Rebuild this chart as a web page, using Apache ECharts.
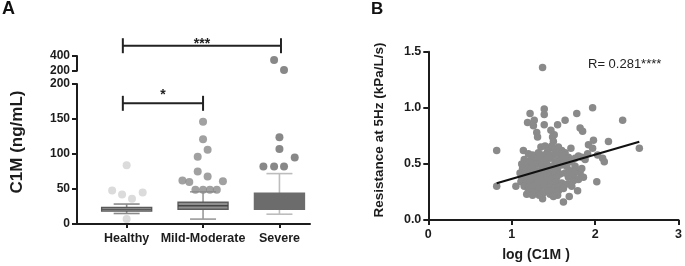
<!DOCTYPE html>
<html><head><meta charset="utf-8">
<script src="https://cdn.jsdelivr.net/npm/echarts@6/dist/echarts.min.js"></script>
<style>html,body{margin:0;padding:0;background:#fff}#c{width:685px;height:266px}</style>
</head><body><div id="c"></div>
<script>
// ---------- Panel A data ----------
const categories = ['Healthy', 'Mild-Moderate', 'Severe'];
const boxLow  = [15, 7, 14];
const boxQ1   = [18.6, 21, 21];
const boxMed  = [21, 26, 30];
const boxQ3   = [23.5, 31, 44];
const boxHigh = [28.5, 46, 72];
const healthyPts = [84, 48, 42, 36, 45, 7];
const healthyJit = [0, -0.19, -0.06, 0.07, 0.21, 0];
const mildPts = [146, 121, 106, 96, 75, 68, 62, 60, 61, 49, 49, 49, 49];
const mildJit = [0, 0, 0.06, -0.07, -0.07, 0.06, -0.27, -0.18, 0.26, -0.1, 0, 0.09, 0.18];
const severePts = [124, 107, 95, 82, 82, 82];
const severeJit = [0, 0, 0.2, -0.21, -0.07, 0.06];
const severeHighPts = [345, 210];
const severeHighJit = [-0.07, 0.06];
const lowerTicks = [0, 50, 100, 150, 200];
const upperTicks = [200, 400];

// ---------- Panel B data ----------
const scatterB = [
[1.37,1.36],[1.97,1.00],[2.33,0.89],[2.53,0.64],[0.82,0.62],[0.82,0.30],[1.05,0.30],
[1.39,0.99],[1.39,0.94],[1.22,0.95],[1.19,0.87],[1.27,0.89],[1.26,0.84],[1.39,0.85],
[1.55,0.85],[1.64,0.89],[1.78,0.95],[1.30,0.78],[1.31,0.74],[1.47,0.80],[1.51,0.76],
[1.49,0.74],[1.82,0.82],[1.85,0.79],[1.71,0.64],[2.16,0.70],[1.98,0.71],[2.03,0.58],
[2.09,0.55],[2.11,0.52],[1.97,0.64],[1.91,0.59],[2.02,0.34],[1.79,0.26],[1.62,0.16],
[1.69,0.21],[1.37,0.19],[1.18,0.23],[1.14,0.62],[1.50,0.70],[1.92,0.67],
[1.35,0.65],[1.40,0.66],[1.45,0.64],[1.48,0.66],[1.52,0.63],[1.56,0.65],[1.60,0.62],[1.43,0.61],
[1.20,0.59],[1.25,0.58],[1.32,0.60],[1.38,0.58],[1.44,0.59],[1.50,0.58],[1.55,0.60],[1.59,0.57],
[1.15,0.54],[1.22,0.53],[1.28,0.55],[1.34,0.54],[1.40,0.53],[1.46,0.55],[1.52,0.52],[1.57,0.54],[1.62,0.55],
[1.12,0.50],[1.18,0.49],[1.24,0.51],[1.30,0.50],[1.36,0.49],[1.42,0.50],[1.48,0.48],[1.54,0.50],[1.60,0.49],
[1.13,0.46],[1.19,0.45],[1.25,0.46],[1.31,0.44],[1.37,0.46],[1.43,0.45],[1.49,0.44],[1.55,0.46],
[1.10,0.42],[1.16,0.41],[1.22,0.42],[1.28,0.40],[1.34,0.42],[1.40,0.41],[1.46,0.40],[1.52,0.42],[1.58,0.41],
[1.12,0.38],[1.18,0.37],[1.24,0.38],[1.30,0.36],[1.36,0.38],[1.42,0.37],[1.48,0.36],[1.54,0.38],
[1.11,0.34],[1.17,0.33],[1.23,0.34],[1.29,0.32],[1.35,0.34],[1.41,0.33],[1.47,0.32],[1.53,0.34],[1.60,0.33],
[1.15,0.30],[1.21,0.29],[1.27,0.30],[1.33,0.28],[1.39,0.30],[1.45,0.29],[1.51,0.28],[1.57,0.30],
[1.20,0.26],[1.26,0.25],[1.32,0.26],[1.38,0.24],[1.44,0.26],[1.50,0.25],[1.56,0.26],
[1.25,0.22],[1.33,0.22],[1.46,0.23],[1.55,0.22],[1.50,0.21],
[1.64,0.60],[1.68,0.56],[1.72,0.52],[1.76,0.55],[1.80,0.57],[1.84,0.56],[1.88,0.54],[1.66,0.48],
[1.70,0.44],[1.74,0.40],[1.78,0.44],[1.82,0.42],[1.86,0.38],[1.80,0.36],[1.74,0.35],[1.68,0.38],
[1.64,0.42],[1.84,0.46],[1.67,0.32],[1.72,0.30],[1.62,0.28],[1.76,0.48],[1.63,0.52]
];
const regX = [0.82, 2.53];
const regY = [0.327, 0.698];
const xTicksB = [0, 1, 2, 3];
const yTicksB = [0, 0.5, 1.0, 1.5];

// ---------- styles ----------
const FONT = '"Liberation Sans", Arial, Helvetica, sans-serif';
const INK = '#1c1c1c';
const boxStyles = [
  {fill:'#d6d6d6', stroke:'#5a5a5a', median:'#5a5a5a', whisker:'#8a8a8a'},
  {fill:'#8e8e8e', stroke:'#5c5c5c', median:'#444444', whisker:'#9a9a9a'},
  {fill:'#6c6c6c', stroke:'#6c6c6c', median:'#6c6c6c', whisker:'#bdbdbd'}
];
const dotColors = ['#d2d2d2', '#8a8a8a', '#6a6a6a'];

const chart = echarts.init(document.getElementById('c'), null, {renderer:'canvas'});

function axisBase(extra) {
  return Object.assign({
    axisLine: {show:true, onZero:false, lineStyle:{color:INK, width:2}},
    axisTick: {show:true, length:5, lineStyle:{color:INK, width:2}},
    axisLabel: {color:INK, fontWeight:'bold', fontSize:12, fontFamily:FONT},
    splitLine: {show:false}
  }, extra);
}

function boxRender(params, api) {
  const i = api.value(0);
  const lo = api.coord([i, api.value(1)]);
  const q1 = api.coord([i, api.value(2)]);
  const md = api.coord([i, api.value(3)]);
  const q3 = api.coord([i, api.value(4)]);
  const hi = api.coord([i, api.value(5)]);
  const hw = 25, cw = 13, x = lo[0];
  const s = boxStyles[i];
  const wl = {stroke:s.whisker, lineWidth:1.6};
  return {type:'group', children:[
    {type:'line', shape:{x1:x, y1:lo[1], x2:x, y2:q1[1]}, style:wl},
    {type:'line', shape:{x1:x, y1:q3[1], x2:x, y2:hi[1]}, style:wl},
    {type:'line', shape:{x1:x-cw, y1:lo[1], x2:x+cw, y2:lo[1]}, style:wl},
    {type:'line', shape:{x1:x-cw, y1:hi[1], x2:x+cw, y2:hi[1]}, style:wl},
    {type:'rect', shape:{x:x-hw, y:q3[1], width:2*hw, height:q1[1]-q3[1]}, style:{fill:s.fill, stroke:s.stroke, lineWidth:1.4}},
    {type:'line', shape:{x1:x-hw, y1:md[1], x2:x+hw, y2:md[1]}, style:{stroke:s.median, lineWidth:1.4}}
  ]};
}

function makeBracket(xi, yi, x1, x2, yv, text, dy) {
  return {
    type:'custom', xAxisIndex:xi, yAxisIndex:yi, clip:false, silent:true, z:5,
    data:[[x1, x2, yv]],
    encode:{x:0, y:2},
    renderItem: function(params, api) {
      const a = api.coord([api.value(0), api.value(2)]);
      const b = api.coord([api.value(1), api.value(2)]);
      const h = 7.5, ls = {stroke:'#222', lineWidth:2};
      return {type:'group', children:[
        {type:'line', shape:{x1:a[0], y1:a[1], x2:b[0], y2:b[1]}, style:ls},
        {type:'line', shape:{x1:a[0], y1:a[1]-h, x2:a[0], y2:a[1]+h}, style:ls},
        {type:'line', shape:{x1:b[0], y1:b[1]-h, x2:b[0], y2:b[1]+h}, style:ls},
        {type:'text', x:(a[0]+b[0])/2, y:a[1]+dy, style:{text:text, align:'center', verticalAlign:'middle', font:'bold 14px ' + FONT, fill:'#222'}}
      ]};
    }
  };
}

const option = {
  animation:false,
  backgroundColor:'#fff',
  grid:[
    {left:77, top:56, width:233, height:14.7},
    {left:77, top:84, width:233, height:140},
    {left:428.3, top:51.7, width:253.4, height:168.3}
  ],
  xAxis:[
    {gridIndex:0, type:'value', min:-0.65, max:2.4, show:false},
    axisBase({gridIndex:1, type:'value', min:-0.65, max:2.4,
      axisTick:{show:true, length:4, customValues:[0,1,2], lineStyle:{color:INK, width:2}},
      axisLabel:{customValues:[0,1,2], formatter:v=>categories[Math.round(v)], color:INK, fontWeight:'bold', fontSize:12.5, fontFamily:FONT, margin:8}}),
    axisBase({gridIndex:2, type:'value', min:0, max:3, interval:1,
      axisTick:{show:true, length:5, customValues:xTicksB, lineStyle:{color:INK, width:2}},
      axisLabel:{customValues:xTicksB, color:INK, fontWeight:'bold', fontSize:12.5, fontFamily:FONT, margin:8}})
  ],
  yAxis:[
    axisBase({gridIndex:0, type:'value', min:200, max:400, interval:200,
      axisTick:{show:true, length:5, customValues:upperTicks, lineStyle:{color:INK, width:2}},
      axisLabel:{customValues:upperTicks, color:INK, fontWeight:'bold', fontSize:12, fontFamily:FONT, margin:7}}),
    axisBase({gridIndex:1, type:'value', min:0, max:200, interval:50,
      axisTick:{show:true, length:5, customValues:lowerTicks, lineStyle:{color:INK, width:2}},
      axisLabel:{customValues:lowerTicks, color:INK, fontWeight:'bold', fontSize:12, fontFamily:FONT, margin:7}}),
    axisBase({gridIndex:2, type:'value', min:0, max:1.5, interval:0.5,
      axisTick:{show:true, length:5, customValues:yTicksB, lineStyle:{color:INK, width:2}},
      axisLabel:{customValues:yTicksB, formatter:v=>v.toFixed(1), color:INK, fontWeight:'bold', fontSize:12.5, fontFamily:FONT, margin:7}})
  ],
  graphic:[
    {type:'text', left:2, top:0, style:{text:'A', font:'bold 18px ' + FONT, fill:'#111'}},
    {type:'text', left:371, top:1, style:{text:'B', font:'bold 17px ' + FONT, fill:'#111'}},
    {type:'text', x:17, y:142, rotation:Math.PI/2, style:{text:'C1M (ng/mL)', align:'center', verticalAlign:'middle', font:'bold 17px ' + FONT, fill:INK}},
    {type:'text', x:379, y:130, rotation:Math.PI/2, style:{text:'Resistance at 5Hz (kPa/L/s)', align:'center', verticalAlign:'middle', font:'bold 13.5px ' + FONT, fill:INK}},
    {type:'text', x:536, y:255, style:{text:'log (C1M )', align:'center', verticalAlign:'middle', font:'bold 14px ' + FONT, fill:INK}},
    {type:'text', x:588, y:64, style:{text:'R= 0.281****', align:'left', verticalAlign:'middle', font:'13px ' + FONT, fill:'#222'}}
  ],
  series:[
    {type:'custom', xAxisIndex:1, yAxisIndex:1, clip:false, silent:true, z:2,
      data: categories.map((c, i) => [i, boxLow[i], boxQ1[i], boxMed[i], boxQ3[i], boxHigh[i]]),
      encode:{x:0, y:[1,2,3,4,5]},
      renderItem: boxRender},
    {type:'scatter', xAxisIndex:1, yAxisIndex:1, symbolSize:8, z:3, silent:true,
      itemStyle:{color:dotColors[0]}, data: healthyPts.map((v, k) => [0 + healthyJit[k], v])},
    {type:'scatter', xAxisIndex:1, yAxisIndex:1, symbolSize:8, z:3, silent:true,
      itemStyle:{color:dotColors[1]}, data: mildPts.map((v, k) => [1 + mildJit[k], v])},
    {type:'scatter', xAxisIndex:1, yAxisIndex:1, symbolSize:8, z:3, silent:true,
      itemStyle:{color:dotColors[2]}, data: severePts.map((v, k) => [2 + severeJit[k], v])},
    {type:'scatter', xAxisIndex:0, yAxisIndex:0, symbolSize:8, z:3, silent:true, clip:false,
      itemStyle:{color:dotColors[2]}, data: severeHighPts.map((v, k) => [2 + severeHighJit[k], v])},
    makeBracket(0, 0, -0.05, 2.02, 540, '***', -2),
    makeBracket(1, 1, -0.05, 1.0, 172.4, '*', -8.5),
    {type:'scatter', xAxisIndex:2, yAxisIndex:2, symbolSize:7.5, silent:true, z:3,
      itemStyle:{color:'#8a8a8a', opacity:1}, data: scatterB},
    {type:'line', xAxisIndex:2, yAxisIndex:2, showSymbol:false, silent:true, z:4,
      lineStyle:{color:'#111', width:2.2}, data: regX.map((x, k) => [x, regY[k]])}
  ]
};
chart.setOption(option);
</script></body></html>
